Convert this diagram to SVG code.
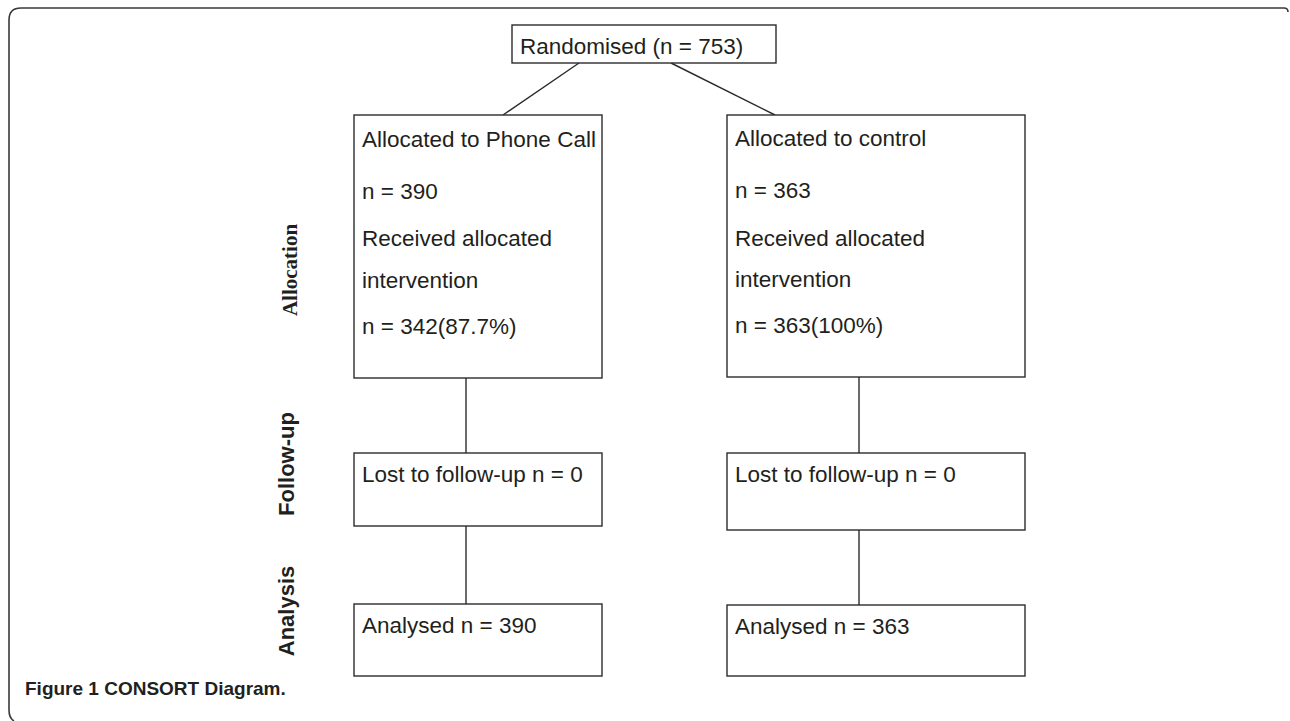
<svg xmlns="http://www.w3.org/2000/svg" width="1290" height="721" viewBox="0 0 1290 721">
<style>
.box{fill:#fff;stroke:#2b2b2b;stroke-width:1.4}
.ln{stroke:#2b2b2b;stroke-width:1.4;fill:none}
.t{font-family:"Liberation Sans",Arial,sans-serif;font-size:22.5px;fill:#231f20}
.lab{font-family:"Liberation Sans",Arial,sans-serif;font-size:22px;font-weight:bold;fill:#231f20;text-anchor:middle}
.labs{font-family:"Liberation Serif","Times New Roman",serif;font-size:21px;font-weight:bold;fill:#231f20;text-anchor:middle}
.cap{font-family:"Liberation Sans",Arial,sans-serif;font-size:19px;font-weight:bold;fill:#231f20}
</style>
<rect width="1290" height="721" fill="#fff"/>
<path id="frame" d="M1288 12 Q1288 8 1284 8 L21 8 Q9 8 9 20 L9 710 Q9 718 14 721" fill="none" stroke="#3a3a3a" stroke-width="1.6"/>
<g id="connectors">
<line class="ln" x1="579" y1="63" x2="503" y2="115"/>
<line class="ln" x1="671" y1="63" x2="775" y2="115"/>
<line class="ln" x1="466" y1="378" x2="466" y2="453"/>
<line class="ln" x1="466" y1="526" x2="466" y2="604"/>
<line class="ln" x1="859" y1="377" x2="859" y2="453"/>
<line class="ln" x1="859" y1="530" x2="859" y2="605"/>
</g>
<g id="randomised">
<rect class="box" x="512" y="25" width="264" height="38"/>
<text class="t" x="520" y="54">Randomised (n = 753)</text>
</g>
<g id="alloc-phone">
<rect class="box" x="354" y="115" width="248" height="263"/>
<text class="t" x="362" y="147">Allocated to Phone Call</text>
<text class="t" x="362" y="199">n = 390</text>
<text class="t" x="362" y="246">Received allocated</text>
<text class="t" x="362" y="288">intervention</text>
<text class="t" x="362" y="334">n = 342(87.7%)</text>
</g>
<g id="alloc-control">
<rect class="box" x="727" y="115" width="298" height="262"/>
<text class="t" x="735" y="146">Allocated to control</text>
<text class="t" x="735" y="198">n = 363</text>
<text class="t" x="735" y="246">Received allocated</text>
<text class="t" x="735" y="287">intervention</text>
<text class="t" x="735" y="333">n = 363(100%)</text>
</g>
<g id="lost-phone">
<rect class="box" x="354" y="453" width="248" height="73"/>
<text class="t" x="362" y="482">Lost to follow-up n = 0</text>
</g>
<g id="lost-control">
<rect class="box" x="727" y="453" width="298" height="77"/>
<text class="t" x="735" y="482">Lost to follow-up n = 0</text>
</g>
<g id="analysed-phone">
<rect class="box" x="354" y="604" width="248" height="72"/>
<text class="t" x="362" y="633">Analysed n = 390</text>
</g>
<g id="analysed-control">
<rect class="box" x="727" y="605" width="298" height="71"/>
<text class="t" x="735" y="634">Analysed n = 363</text>
</g>
<g id="labels">
<text class="labs" transform="translate(297 270) rotate(-90)">Allocation</text>
<text class="lab" transform="translate(294 464) rotate(-90)">Follow-up</text>
<text class="lab" transform="translate(294 611) rotate(-90)">Analysis</text>
</g>
<text class="cap" x="25" y="695">Figure 1 <tspan font-weight="600">CONSORT Diagram.</tspan></text>
</svg>
